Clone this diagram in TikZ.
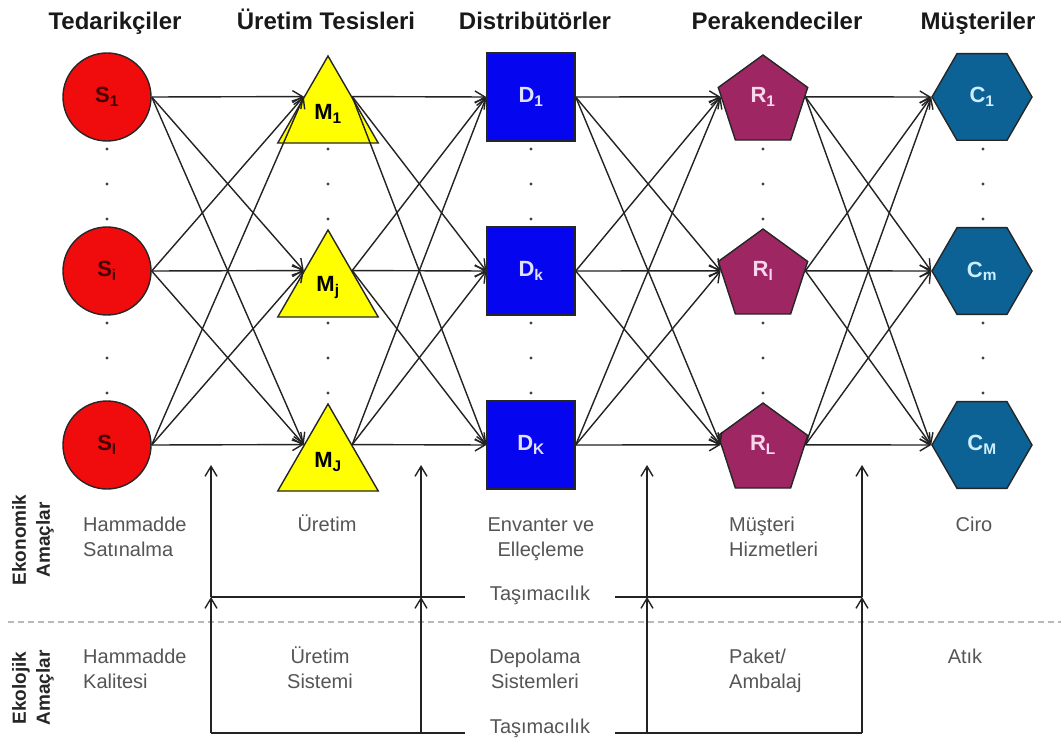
\documentclass[tikz,border=0pt]{standalone}
\usepackage{fontspec}
\setmainfont{Liberation Sans}
\usetikzlibrary{arrows.meta, calc, shapes.geometric}

\definecolor{supred}{RGB}{240,12,12}
\definecolor{suplabel}{RGB}{70,0,0}
\definecolor{manyellow}{RGB}{255,255,0}
\definecolor{disblue}{RGB}{5,5,240}
\definecolor{dislabel}{RGB}{225,225,255}
\definecolor{retmagenta}{RGB}{158,38,98}
\definecolor{retlabel}{RGB}{248,215,236}
\definecolor{custeal}{RGB}{12,98,148}
\definecolor{cuslabel}{RGB}{205,238,255}
\definecolor{goalgray}{RGB}{85,85,85}
\definecolor{linkgray}{RGB}{35,35,35}

\begin{document}
\begin{tikzpicture}[x=1pt, y=-1pt, >={Straight Barb[length=10pt, width=12pt]},
  link/.style={->, draw=linkgray, line width=1.4pt},
  stage/.style={draw=black!85, line width=1.4pt, inner sep=0pt, font=\fontsize{22}{24}\selectfont\bfseries},
  header/.style={anchor=base, inner sep=0pt, text=black!90, font=\fontsize{24}{28}\selectfont\bfseries},
  goal/.style={anchor=base, inner sep=0pt, text=goalgray, font=\fontsize{20}{25}\selectfont},
  goalside/.style={rotate=90, align=center, inner sep=0pt, text=black!85, font=\fontsize{19}{24}\selectfont\bfseries}]
\useasboundingbox[fill=white] (0,0) rectangle (1061,738);

% Column headers
\node[header] (h-sup) at (115,30) {Tedarikçiler};
\node[header] (h-man) at (326,30) {Üretim Tesisleri};
\node[header] (h-dis) at (535,30) {Distribütörler};
\node[header] (h-ret) at (777,30) {Perakendeciler};
\node[header] (h-cus) at (978,30) {Müşteriler};

% Stages, one row each
\foreach \i/\y/\s/\m/\d/\r/\c in {1/97/1/1/1/1/1, 2/271/i/j/k/l/m, 3/445/I/J/K/L/M} {
  \node[stage, circle, fill=supred, text=suplabel, minimum size=88pt] (S\i) at (107,\y) {S\textsubscript{\s}};
  \node[stage, regular polygon, regular polygon sides=3, fill=manyellow, minimum size=116pt] (M\i) at (328,\y+17) {M\textsubscript{\m}};
  \node[stage, rectangle, fill=disblue, text=dislabel, minimum width=88pt, minimum height=88pt] (D\i) at (531,\y) {D\textsubscript{\d}};
  \node[stage, regular polygon, regular polygon sides=5, fill=retmagenta, text=retlabel, minimum size=94pt] (R\i) at (763,\y+5) {\raisebox{5pt}[\height][\depth]{R\textsubscript{\r}}};
  \node[stage, regular polygon, regular polygon sides=6, fill=custeal, text=cuslabel, minimum size=100pt] (C\i) at (982,\y) {C\textsubscript{\c}};
  % in and out points on the row line
  \coordinate (S\i-out) at (S\i.east);
  \coordinate (M\i-in) at ($(M\i.corner 1)!0.471!(M\i.corner 2)$);
  \coordinate (M\i-out) at ($(M\i.corner 1)!0.471!(M\i.corner 3)$);
  \coordinate (D\i-in) at (D\i.west);
  \coordinate (D\i-out) at (D\i.east);
  \coordinate (R\i-in) at ($(R\i.corner 2)!0.18!(R\i.corner 3)$);
  \coordinate (R\i-out) at ($(R\i.corner 5)!0.18!(R\i.corner 4)$);
  \coordinate (C\i-in) at (C\i.west);
}

% Vertical dots
\foreach \x in {107,328,531,763,983}
  \foreach \y in {149,184,219,323,358,393}
    \fill[black!75] (\x,\y) circle (1.7pt);

% Links between stages
\foreach \a/\b in {S/M, M/D, D/R, R/C}
  \foreach \i in {1,2,3}
    \foreach \j in {1,2,3}
      \draw[link] (\a\i-out) -- (\b\j-in);

% Goal rows
\node[goalside] (g-eco) at (33,540) {Ekonomik\\Amaçlar};
\node[goalside] (g-env) at (33,688) {Ekolojik\\Amaçlar};

\node[goal, align=left, anchor=base west] (eco-1) at (83,556) {Hammadde\\Satınalma};
\node[goal] (eco-2) at (327,531) {Üretim};
\node[goal, align=center] (eco-3) at (541,556) {Envanter ve\\Elleçleme};
\node[goal, align=left, anchor=base west] (eco-4) at (729,556) {Müşteri\\Hizmetleri};
\node[goal] (eco-5) at (974,531) {Ciro};

\node[goal, align=left, anchor=base west] (env-1) at (83,688) {Hammadde\\Kalitesi};
\node[goal, align=center] (env-2) at (320,688) {Üretim\\Sistemi};
\node[goal, align=center] (env-3) at (535,688) {Depolama\\Sistemleri};
\node[goal, align=left, anchor=base west] (env-4) at (729,688) {Paket/\\Ambalaj};
\node[goal] (env-5) at (965,663) {Atık};

% Separator
\draw[gray!55, line width=1.3pt, dash pattern=on 6pt off 4pt] (8,622) -- (1061,622);

% Transport
\node[goal, anchor=center, inner xsep=25pt] (tas-eco) at (540,595) {Taşımacılık};
\node[goal, anchor=center, inner xsep=25pt] (tas-env) at (540,728) {Taşımacılık};
\foreach \k/\tx in {1/211, 2/421, 3/647, 4/862} {
  \coordinate (up-\k) at (\tx,465);
  \coordinate (mid-\k) at (\tx,597);
  \coordinate (low-\k) at (\tx,733);
  \draw[link] (mid-\k) -- (up-\k);
  \draw[link] (low-\k) -- (mid-\k);
}
\draw[draw=linkgray, line width=1.4pt] (mid-1) -- (mid-1 -| tas-eco.west) (tas-eco.east |- mid-4) -- (mid-4);
\draw[draw=linkgray, line width=1.4pt] (low-1) -- (low-1 -| tas-env.west) (tas-env.east |- low-4) -- (low-4);

\end{tikzpicture}
\end{document}
